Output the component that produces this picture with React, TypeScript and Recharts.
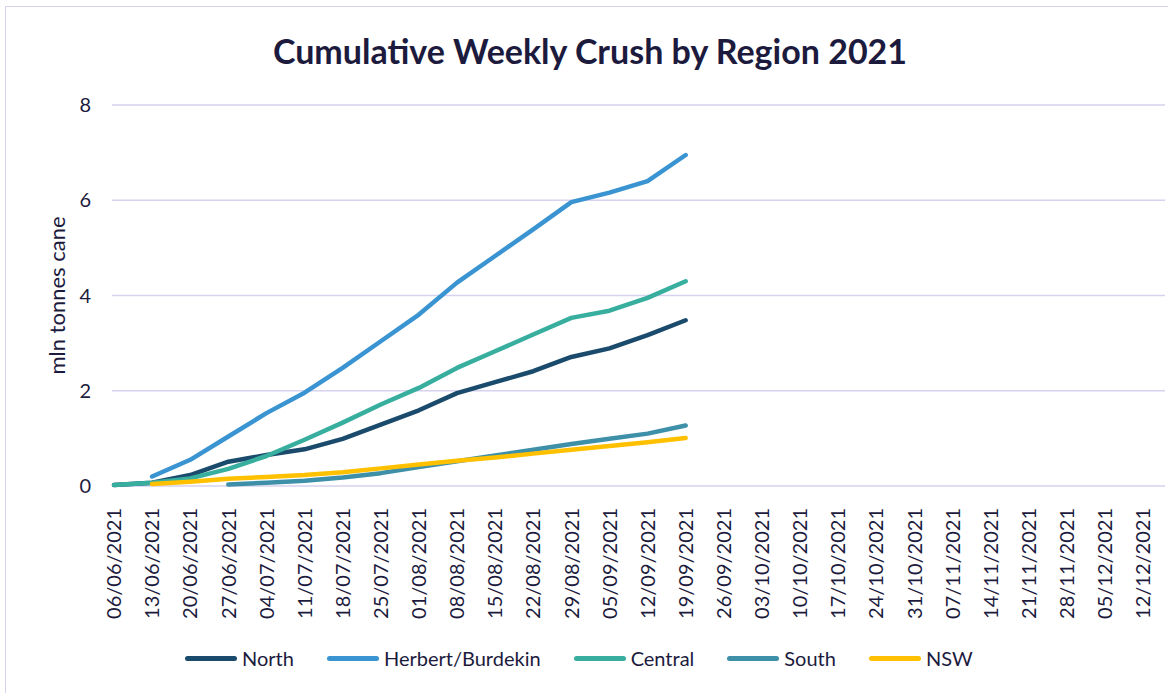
import { LineChart, Line, XAxis, YAxis, CartesianGrid, Label } from "recharts";

const WEEKS = [
  "06/06/2021", "13/06/2021", "20/06/2021", "27/06/2021", "04/07/2021", "11/07/2021", "18/07/2021",
  "25/07/2021", "01/08/2021", "08/08/2021", "15/08/2021", "22/08/2021", "29/08/2021", "05/09/2021",
  "12/09/2021", "19/09/2021", "26/09/2021", "03/10/2021", "10/10/2021", "17/10/2021", "24/10/2021",
  "31/10/2021", "07/11/2021", "14/11/2021", "21/11/2021", "28/11/2021", "05/12/2021", "12/12/2021",
];

// mln tonnes cane, cumulative (null = no crush reported)
const NORTH = [0.02, 0.07, 0.23, 0.51, 0.65, 0.77, 0.99, 1.29, 1.59, 1.95, 2.18, 2.41, 2.71, 2.89, 3.17, 3.48];
const HERBERT = [null, 0.2, 0.55, 1.04, 1.53, 1.96, 2.48, 3.04, 3.6, 4.27, 4.83, 5.39, 5.96, 6.16, 6.4, 6.95];
const CENTRAL = [0.02, 0.07, 0.16, 0.36, 0.63, 0.97, 1.33, 1.71, 2.06, 2.48, 2.83, 3.18, 3.53, 3.68, 3.95, 4.3];
const SOUTH = [null, null, null, 0.03, 0.07, 0.11, 0.18, 0.27, 0.4, 0.52, 0.64, 0.76, 0.88, 0.99, 1.1, 1.27];
const NSW = [null, 0.04, 0.09, 0.15, 0.19, 0.23, 0.29, 0.37, 0.45, 0.53, 0.6, 0.68, 0.76, 0.84, 0.92, 1.01];

const Y_TICKS = [0, 2, 4, 6, 8];

const SERIES = [
  { key: "north", name: "North", values: NORTH, color: "#1b4b6c" },
  { key: "herbert", name: "Herbert/Burdekin", values: HERBERT, color: "#3a94d1" },
  { key: "central", name: "Central", values: CENTRAL, color: "#38ae9f" },
  { key: "south", name: "South", values: SOUTH, color: "#3e90a8" },
  { key: "nsw", name: "NSW", values: NSW, color: "#ffc000" },
];

const data = WEEKS.map((week, i) => {
  const row: Record<string, any> = { week };
  SERIES.forEach((s) => {
    row[s.key] = i < s.values.length ? s.values[i] : null;
  });
  return row;
});

const TEXT = "#1c1b3e";
const FONT = "Lato, 'Open Sans', sans-serif";

const DateTick = ({ x, y, payload }: any) => (
  <text
    x={x}
    y={y}
    transform={`rotate(-90, ${x}, ${y})`}
    textAnchor="end"
    dy="0.36em"
    fill={TEXT}
    fontSize={20}
    fontFamily={FONT}
  >
    {payload.value}
  </text>
);

const YTitle = ({ viewBox }: any) => {
  const cx = 56;
  const cy = viewBox.y + viewBox.height / 2;
  return (
    <text
      x={cx}
      y={cy}
      transform={`rotate(-90, ${cx}, ${cy})`}
      textAnchor="middle"
      dominantBaseline="central"
      fill={TEXT}
      fontSize={22}
      fontFamily={FONT}
    >
      mln tonnes cane
    </text>
  );
};

export default function App() {
  return (
    <div style={{ position: "absolute", left: 0, top: 0, width: 1168, height: 693, background: "#fff", overflow: "hidden", fontFamily: FONT }}>
      <div style={{ position: "absolute", left: 5, top: 6, width: 1180, height: 720, border: "1.5px solid #d6d2ef" }} />
      <div style={{ position: "absolute", left: 0, top: 30, width: 1180, textAlign: "center", fontSize: 34, fontWeight: 700, color: TEXT }}>
        Cumulative Weekly Crush by Region 2021
      </div>

      <div style={{ position: "absolute", left: 0, top: 0 }}>
        <LineChart width={1168} height={693} data={data} margin={{ top: 105, right: 3, left: 0, bottom: 0 }}>
          <CartesianGrid vertical={false} stroke="#d6d2ef" strokeWidth={1.5} />
          <XAxis
            dataKey="week"
            interval={0}
            height={207}
            axisLine={false}
            tickLine={false}
            tick={<DateTick />}
            tickMargin={16}
            padding={{ left: 2, right: 22 }}
          />
          <YAxis
            width={112}
            domain={[0, 8]}
            ticks={Y_TICKS}
            axisLine={false}
            tickLine={false}
            tickSize={0}
            tickMargin={21}
            tick={{ fill: TEXT, fontSize: 20, fontFamily: FONT }}
          >
            <Label content={<YTitle />} />
          </YAxis>
          {SERIES.map((s) => (
            <Line
              key={s.key}
              type="linear"
              dataKey={s.key}
              name={s.name}
              stroke={s.color}
              strokeWidth={4.5}
              strokeLinecap="round"
              strokeLinejoin="round"
              dot={false}
              activeDot={false}
              isAnimationActive={false}
            />
          ))}
        </LineChart>
      </div>

      <div style={{ position: "absolute", left: 185, top: 646, display: "flex", alignItems: "center", fontSize: 20, color: TEXT, lineHeight: "24px" }}>
        {SERIES.map((s) => (
          <div key={s.key} style={{ display: "flex", alignItems: "center", marginRight: 33 }}>
            <div style={{ width: 52, height: 5, borderRadius: 3, background: s.color, marginRight: 5 }} />
            <span>{s.name}</span>
          </div>
        ))}
      </div>
    </div>
  );
}
